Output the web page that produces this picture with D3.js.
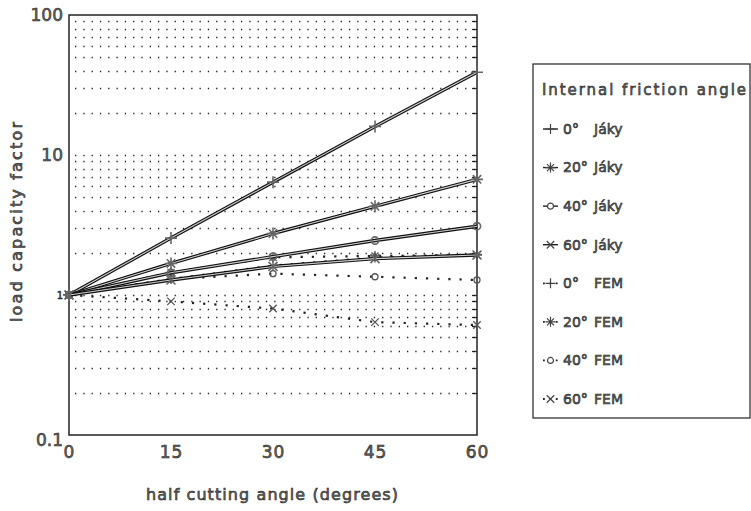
<!DOCTYPE html>
<html>
<head>
<meta charset="utf-8">
<script src="https://d3js.org/d3.v7.min.js"></script>
<style>
body { margin: 0; background: #fff; }
text { font-family: "DejaVu Sans", sans-serif; fill: #666; stroke: #222; stroke-width: 0.55px; }
</style>
</head>
<body>
<script>
// half cutting angle (degrees)
var angles = [0, 15, 30, 45, 60];

// Jaky curves
var jaky0  = [1, 2.55, 6.4, 16, 39];
var jaky20 = [1, 1.68, 2.75, 4.3, 6.7];
var jaky40 = [1, 1.44, 1.88, 2.45, 3.1];
var jaky60 = [1, 1.28, 1.6, 1.82, 1.93];

// FEM results
var fem0  = [1, 1.3, 1.62, 1.85, 1.95];
var fem20 = [1, 1.45, 1.86, 1.9, 1.93];
var fem40 = [1, 1.3, 1.42, 1.35, 1.28];
var fem60 = [1, 0.9, 0.8, 0.64, 0.61];

var xTicks = [0, 15, 30, 45, 60];
var yTicks = [0.1, 1, 10, 100];
var yTickLabels = ["0.1", "1", "10", "100"];
var frictionLabels = ["0°", "20°", "40°", "60°"];
var methodLabels = ["Jáky", "FEM"];

var width = 751, height = 511;
var svg = d3.select("body").append("svg").attr("width", width).attr("height", height);

var x = d3.scaleLinear().domain([0, 60]).range([69, 477]);
var y = d3.scaleLog().domain([0.1, 100]).range([435, 15]);

// dotted grid at every log tick
var grid = y.ticks().filter(function(d){ return d > 0.1 && d < 100; });
svg.append("g").selectAll("line").data(grid).enter().append("line")
  .attr("x1", x(0) + 6).attr("x2", x(60))
  .attr("y1", function(d){ return Math.round(y(d)) + 0.5; })
  .attr("y2", function(d){ return Math.round(y(d)) + 0.5; })
  .attr("stroke", "#222").attr("stroke-width", 1.3)
  .attr("stroke-dasharray", "1.3,7");

// right side inner ticks
svg.append("g").selectAll("line").data(grid).enter().append("line")
  .attr("x1", x(60) - 5).attr("x2", x(60))
  .attr("y1", function(d){ return Math.round(y(d)) + 0.5; })
  .attr("y2", function(d){ return Math.round(y(d)) + 0.5; })
  .attr("stroke", "#222").attr("stroke-width", 1.2);

// frame
svg.append("rect").attr("x", x(0)).attr("y", y(100))
  .attr("width", x(60) - x(0)).attr("height", y(0.1) - y(100))
  .attr("fill", "none").attr("stroke", "#222").attr("stroke-width", 1.5);

// x axis
var xAxis = d3.axisBottom(x).tickValues(xTicks).tickSize(0).tickPadding(11);
var gx = svg.append("g").attr("transform", "translate(0," + y(0.1) + ")").call(xAxis);
gx.select(".domain").remove();
gx.selectAll("text").style("font-size", "17px").attr("fill", null)
  .style("letter-spacing", "1px");

// y axis
var yAxis = d3.axisLeft(y).tickValues(yTicks).tickSize(0).tickPadding(6)
  .tickFormat(function(d, i){ return yTickLabels[i]; });
var gy = svg.append("g").attr("transform", "translate(" + x(0) + ",0)").call(yAxis);
gy.select(".domain").remove();
gy.selectAll("text").style("font-size", function(d){ return d === 1 ? "10px" : "17px"; })
  .attr("fill", null)
  .attr("dy", function(d){ return d === 0.1 ? "0.6em" : "0.3em"; });

// axis titles
svg.append("text").attr("x", 272).attr("y", 500).attr("text-anchor", "middle")
  .attr("textLength", 252).attr("lengthAdjust", "spacing")
  .style("font-size", "16px").text("half cutting angle (degrees)");
svg.append("text").attr("transform", "translate(22,222) rotate(-90)")
  .attr("text-anchor", "middle").attr("textLength", 200).attr("lengthAdjust", "spacing")
  .style("font-size", "16px").text("load capacity factor");

// marker shapes
function marker(kind, s) {
  if (kind === 0) return "M" + (-s) + ",0H" + s + "M0," + (-s) + "V" + s;
  if (kind === 1) return "M" + (-s) + ",0H" + s + "M0," + (-s) + "V" + s +
    "M" + (-s*0.7) + "," + (-s*0.7) + "L" + (s*0.7) + "," + (s*0.7) +
    "M" + (-s*0.7) + "," + (s*0.7) + "L" + (s*0.7) + "," + (-s*0.7);
  if (kind === 2) { var r = s * 0.6; return "M" + r + ",0A" + r + "," + r + " 0 1,1 " + (-r) + ",0A" + r + "," + r + " 0 1,1 " + r + ",0"; }
  return "M" + (-s*0.75) + "," + (-s*0.75) + "L" + (s*0.75) + "," + (s*0.75) +
    "M" + (-s*0.75) + "," + (s*0.75) + "L" + (s*0.75) + "," + (-s*0.75);
}

var line = d3.line()
  .x(function(d, i){ return x(angles[i]); })
  .y(function(d){ return y(d); });

var jaky = [jaky0, jaky20, jaky40, jaky60];
var fem = [fem0, fem20, fem40, fem60];

// FEM dotted lines
fem.forEach(function(s, k) {
  svg.append("path").datum(s).attr("d", line).attr("fill", "none")
    .attr("stroke", "#222").attr("stroke-width", 2.2)
    .attr("stroke-dasharray", "2.2,9");
  svg.append("g").selectAll("path").data(s).enter().append("path")
    .attr("transform", function(d, i){ return "translate(" + x(angles[i]) + "," + y(d) + ")"; })
    .attr("d", marker(k, 5)).attr("fill", "none").attr("stroke", "#555").attr("stroke-width", 1.3);
});

// Jaky solid double lines
jaky.forEach(function(s, k) {
  svg.append("path").datum(s).attr("d", line).attr("fill", "none")
    .attr("stroke", "#111").attr("stroke-width", 3.4);
  svg.append("path").datum(s).attr("d", line).attr("fill", "none")
    .attr("stroke", "#d0d0d0").attr("stroke-width", 1.1);
  svg.append("g").selectAll("path").data(s).enter().append("path")
    .attr("transform", function(d, i){ return "translate(" + x(angles[i]) + "," + y(d) + ")"; })
    .attr("d", marker(k, 6)).attr("fill", "none").attr("stroke", "#666").attr("stroke-width", 1.6);
});

// legend
var lg = svg.append("g");
lg.append("rect").attr("x", 533).attr("y", 64).attr("width", 217).attr("height", 354)
  .attr("fill", "#fff").attr("stroke", "#333").attr("stroke-width", 1.3);
lg.append("text").attr("x", 542).attr("y", 90).attr("dy", "0.35em")
  .attr("textLength", 204).attr("lengthAdjust", "spacing")
  .style("font-size", "15px").text("Internal friction angle");

var rows = [];
methodLabels.forEach(function(m, mi) {
  frictionLabels.forEach(function(f, fi) { rows.push({ m: mi, f: fi, deg: f, name: m }); });
});
var rowY = d3.scaleLinear().domain([0, 7]).range([129, 399]);
var item = lg.selectAll(".item").data(rows).enter().append("g")
  .attr("transform", function(d, i){ return "translate(0," + rowY(i) + ")"; });
item.append("line").attr("x1", 543).attr("x2", 558).attr("y1", 0).attr("y2", 0)
  .attr("stroke", "#222")
  .attr("stroke-width", function(d){ return d.m === 0 ? 1.4 : 1.8; })
  .attr("stroke-dasharray", function(d){ return d.m === 0 ? null : "1.8,4.6"; });
item.append("path").attr("transform", "translate(550.5,0)")
  .attr("d", function(d){ return marker(d.f, 5); })
  .attr("fill", "#fff").attr("stroke", "#444").attr("stroke-width", 1.2);
item.append("text").attr("x", 563).attr("dy", "0.35em").style("font-size", "14px")
  .text(function(d){ return d.deg; });
item.append("text").attr("x", 594).attr("dy", "0.35em").style("font-size", "14px")
  .text(function(d){ return d.name; });
</script>
</body>
</html>
